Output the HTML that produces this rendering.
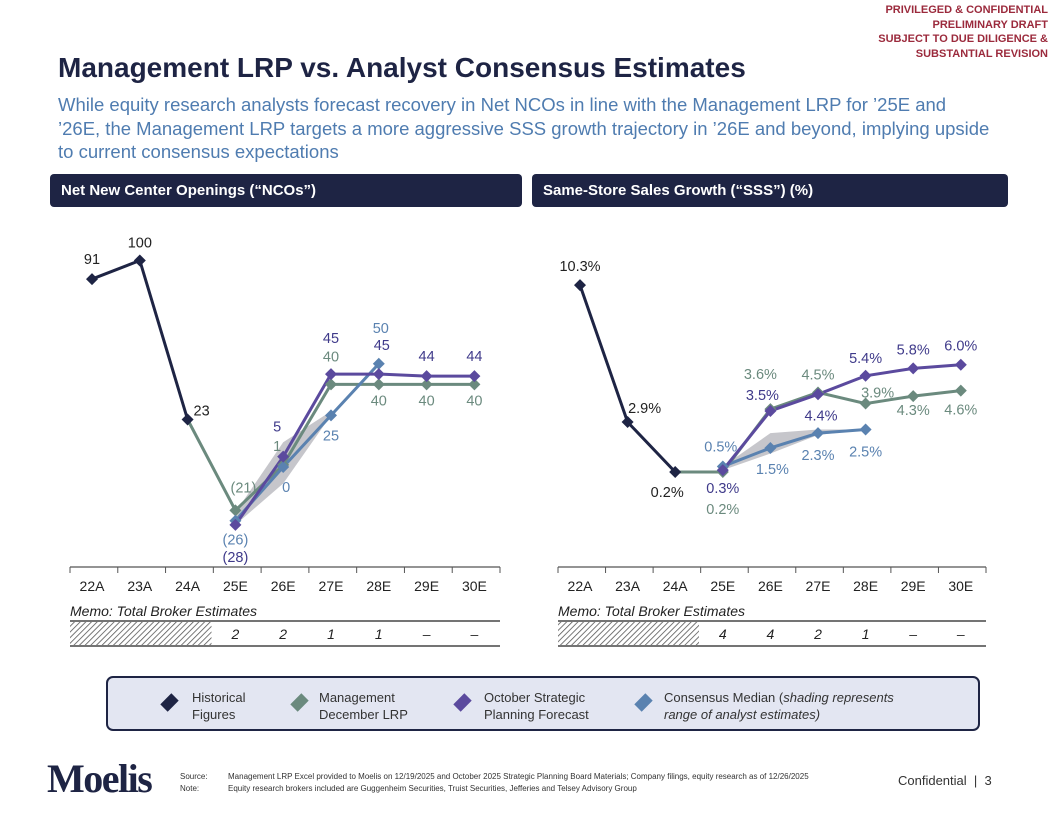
<!DOCTYPE html>
<html><head><meta charset="utf-8"><style>
body{margin:0;background:#fff;font-family:"Liberation Sans",Arial,sans-serif;}
#page{position:relative;width:1056px;height:816px;overflow:hidden;background:#fff;}
.abs{position:absolute;}
</style></head><body>
<div id="page">
<div class="abs" style="right:8px;top:3px;text-align:right;color:#9b2a3c;font-size:11px;font-weight:bold;line-height:14.5px;">PRIVILEGED &amp; CONFIDENTIAL<br>PRELIMINARY DRAFT<br>SUBJECT TO DUE DILIGENCE &amp;<br>SUBSTANTIAL REVISION</div>
<div class="abs" style="left:58px;top:52px;font-size:28px;font-weight:bold;color:#1e2444;white-space:nowrap;">Management LRP vs. Analyst Consensus Estimates</div>
<div class="abs" style="left:58px;top:93px;font-size:18.5px;line-height:23.5px;color:#4f7cb0;white-space:nowrap;">While equity research analysts forecast recovery in Net NCOs in line with the Management LRP for ’25E and<br>’26E, the Management LRP targets a more aggressive SSS growth trajectory in ’26E and beyond, implying upside<br>to current consensus expectations</div>
<div class="abs" style="left:50px;top:174px;width:472px;height:33px;background:#1e2444;border-radius:4px;color:#fff;font-weight:bold;font-size:15px;line-height:33px;padding-left:11px;box-sizing:border-box;">Net New Center Openings (“NCOs”)</div>
<div class="abs" style="left:532px;top:174px;width:476px;height:33px;background:#1e2444;border-radius:4px;color:#fff;font-weight:bold;font-size:15px;line-height:33px;padding-left:11px;box-sizing:border-box;">Same-Store Sales Growth (“SSS”) (%)</div>

<svg id="charts" class="abs" style="left:0;top:0" width="1056" height="816">
<defs><pattern id="hatch" width="4" height="4" patternUnits="userSpaceOnUse" patternTransform="rotate(45)"><rect width="4" height="4" fill="#fff"/><line x1="0" y1="0" x2="0" y2="4" stroke="#555" stroke-width="1.6"/></pattern></defs>
</svg>

<div class="abs" style="left:106px;top:676px;width:874px;height:55px;background:#e3e6f2;border:2px solid #1e2444;border-radius:7px;box-sizing:border-box;"></div>
<div class="abs" style="left:163px;top:689px;font-size:13px;line-height:17px;color:#333;"><span style="position:absolute;left:0;top:7px;width:13px;height:13px;background:#1e2444;transform:rotate(45deg) scale(.8,1.2);"></span><span style="position:absolute;left:29px;white-space:nowrap;">Historical<br>Figures</span></div>
<div class="abs" style="left:293px;top:689px;font-size:13px;line-height:17px;color:#333;"><span style="position:absolute;left:0;top:7px;width:13px;height:13px;background:#6b8a7e;transform:rotate(45deg) scale(.8,1.2);"></span><span style="position:absolute;left:26px;white-space:nowrap;">Management<br>December LRP</span></div>
<div class="abs" style="left:456px;top:689px;font-size:13px;line-height:17px;color:#333;"><span style="position:absolute;left:0;top:7px;width:13px;height:13px;background:#5b4a9e;transform:rotate(45deg) scale(.8,1.2);"></span><span style="position:absolute;left:28px;white-space:nowrap;">October Strategic<br>Planning Forecast</span></div>
<div class="abs" style="left:637px;top:689px;font-size:13px;line-height:17px;color:#333;"><span style="position:absolute;left:0;top:7px;width:13px;height:13px;background:#5a82b0;transform:rotate(45deg) scale(.8,1.2);"></span><span style="position:absolute;left:27px;white-space:nowrap;">Consensus Median (<i>shading represents</i><br><i>range of analyst estimates)</i></span></div>

<div class="abs" style="left:47px;top:755px;font-family:'Liberation Serif',serif;font-size:40px;font-weight:bold;color:#1e2444;letter-spacing:-1.5px;">Moelis</div>
<div class="abs" style="left:180px;top:771px;font-size:8px;line-height:11.5px;color:#333;white-space:nowrap;"><span style="display:inline-block;width:48px">Source:</span>Management LRP Excel provided to Moelis on 12/19/2025 and October 2025 Strategic Planning Board Materials; Company filings, equity research as of 12/26/2025<br><span style="display:inline-block;width:48px">Note:</span>Equity research brokers included are Guggenheim Securities, Truist Securities, Jefferies and Telsey Advisory Group</div>
<div class="abs" style="left:898px;top:773px;font-size:13px;color:#333;">Confidential &nbsp;| &nbsp;3</div>
</div>
<script>
const categories=["22A","23A","24A","25E","26E","27E","28E","29E","30E"];
// NCO chart
const ncoHist=[91,100,23,null,null,null,null,null,null];
const ncoMgmt=[null,null,23,-21,1,40,40,40,40];
const ncoOct=[null,null,null,-28,5,45,45,44,44];
const ncoCons=[null,null,null,-26,0,25,50,null,null];
const ncoBandLow=[null,null,null,-28,-8,25,null,null,null];
const ncoBandHigh=[null,null,null,-22,12,27,null,null,null];
const ncoBrokers=["","","","2","2","1","1","–","–"];
// SSS chart
const sssHist=[10.3,2.9,0.2,null,null,null,null,null,null];
const sssMgmt=[null,null,0.2,0.2,3.6,4.5,3.9,4.3,4.6];
const sssOct=[null,null,null,0.3,3.5,4.4,5.4,5.8,6.0];
const sssCons=[null,null,null,0.5,1.5,2.3,2.5,null,null];
const sssBandLow=[null,null,null,0.3,1.2,2.2,2.5,null,null];
const sssBandHigh=[null,null,null,0.5,2.3,2.5,2.5,null,null];
const sssBrokers=["","","","4","4","2","1","–","–"];

const svg=document.getElementById('charts');
const NS='http://www.w3.org/2000/svg';
function mk(tag,attrs,parent){const e=document.createElementNS(NS,tag);for(const k in attrs)e.setAttribute(k,attrs[k]);(parent||svg).appendChild(e);return e;}
const COL={hist:'#1e2444',mgmt:'#6b8a7e',oct:'#5b4a9e',cons:'#5a82b0'};
const LCOL={hist:'#222',mgmt:'#6b8a7e',oct:'#3f3a8a',cons:'#5a82b0'};

function drawChart(cfg){
  const g=mk('g',{});
  
  
  const x=i=>cfg.x0+i*cfg.dx;
  const y=v=>cfg.yZero-v*cfg.k;
  const ax=mk('line',{x1:cfg.axL,x2:cfg.axR,y1:567,y2:567,stroke:'#555','stroke-width':1.2},g);
  
  
  for(let i=0;i<=categories.length;i++){
    const tx=cfg.axL+i*(cfg.axR-cfg.axL)/categories.length;
    mk('line',{x1:tx,x2:tx,y1:567,y2:573,stroke:'#555','stroke-width':1},g);
  }
  categories.forEach((c,i)=>{
    const t=mk('text',{x:x(i),y:591,'text-anchor':'middle','font-size':14,fill:'#222'},g);
    t.textContent=c;
    
    
  });
  let pts=[],lo=[];
  cfg.bandHigh.forEach((v,i)=>{if(v!=null)pts.push(x(i)+','+y(v));});
  cfg.bandLow.forEach((v,i)=>{if(v!=null)lo.push(x(i)+','+y(v));});
  const band=mk('polygon',{points:pts.concat(lo.reverse()).join(' '),fill:'#b8b8be',opacity:0.8},g);
  
  
  cfg.series.forEach(s=>{
    const p=[];s.data.forEach((v,i)=>{if(v!=null)p.push([x(i),y(v)]);});
    const l=mk('polyline',{points:p.map(q=>q.join(',')).join(' '),fill:'none',stroke:COL[s.key],'stroke-width':3},g);
    
    
  });
  cfg.series.forEach(s=>{
    s.data.forEach((v,i)=>{
      if(v==null)return;
      if(s.skipFirst&&i===s.data.findIndex(d=>d!=null))return;
      const cx=x(i),cy=y(v),r=6;
      const m=mk('polygon',{points:`${cx},${cy-r} ${cx+r},${cy} ${cx},${cy+r} ${cx-r},${cy}`,fill:COL[s.key]},g);
      
      
    });
  });
  cfg.series.forEach(s=>{
    s.data.forEach((v,i)=>{
      if(v==null||!s.lab[i])return;
      const [ddx,ddy]=s.lab[i];
      const t=mk('text',{x:x(i)+ddx,y:y(v)+ddy+5,'text-anchor':'middle','font-size':14.5,fill:LCOL[s.key]},g);
      t.textContent=cfg.fmt(v);
      
      
    });
  });
  const mt=mk('text',{x:cfg.axL,y:616,'font-size':14,'font-style':'italic',fill:'#222'},g);
  mt.textContent='Memo: Total Broker Estimates';
  
  
  mk('line',{x1:cfg.axL,x2:cfg.axR,y1:621,y2:621,stroke:'#222','stroke-width':1.2},g);
  mk('line',{x1:cfg.axL,x2:cfg.axR,y1:646,y2:646,stroke:'#222','stroke-width':1.2},g);
  const hr=mk('rect',{x:cfg.axL,y:622,width:x(2)+cfg.dx/2-cfg.axL,height:23,fill:'url(#hatch)'},g);
  
  
  cfg.brokers.forEach((b,i)=>{
    if(!b)return;
    const t=mk('text',{x:x(i),y:639,'text-anchor':'middle','font-size':14,'font-style':'italic',fill:'#222'},g);
    t.textContent=b;
    
    
  });
}

drawChart({name:'nco-chart',x0:92,dx:47.8,yZero:467,k:2.065,axL:70,axR:500,
  fmt:v=>v<0?'('+(-v)+')':String(v),brokers:ncoBrokers,bandLow:ncoBandLow,bandHigh:ncoBandHigh,
  series:[
    {key:'hist',data:ncoHist,lab:[[0,-20],[0,-18],[14,-9]]},
    {key:'mgmt',data:ncoMgmt,skipFirst:true,lab:[null,null,null,[8,-23],[-6,-19],[0,-28],[0,16],[0,16],[0,16]]},
    {key:'cons',data:ncoCons,lab:[null,null,null,[0,19],[3,20],[0,20],[2,-36]]},
    {key:'oct',data:ncoOct,lab:[null,null,null,[0,32],[-6,-30],[0,-36],[3,-29],[0,-20],[0,-20]]}
  ]});
drawChart({name:'sss-chart',x0:580,dx:47.6,yZero:475.7,k:18.5,axL:558,axR:986,
  fmt:v=>v.toFixed(1)+'%',brokers:sssBrokers,bandLow:sssBandLow,bandHigh:sssBandHigh,
  series:[
    {key:'hist',data:sssHist,lab:[[0,-19],[17,-14],[-8,20]]},
    {key:'mgmt',data:sssMgmt,skipFirst:true,lab:[null,null,null,[0,37],[-10,-35],[0,-18],[12,-11],[0,14],[0,19]]},
    {key:'cons',data:sssCons,lab:[null,null,null,[-2,-20],[2,21],[0,22],[0,22]]},
    {key:'oct',data:sssOct,lab:[null,null,null,[0,18],[-8,-16],[3,21],[0,-18],[0,-19],[0,-19]]}
  ]});
</script>
</body></html>
